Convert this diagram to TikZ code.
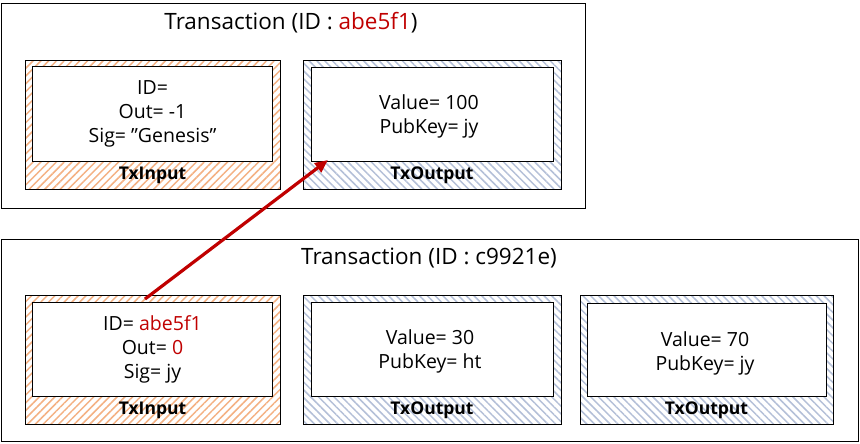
\documentclass[tikz,border=0pt]{standalone}
\usepackage{fontspec}
\setmainfont{Open Sans}
\usetikzlibrary{patterns.meta,arrows.meta}
\definecolor{dred}{HTML}{C00000}
\definecolor{hatchor}{HTML}{F4B183}
\definecolor{hatchbl}{HTML}{B4C0D8}
\tikzset{
  x=1pt,y=-1pt,
  txbox/.style={draw=black,line width=1pt,minimum width=#1,inner sep=0pt},
  inbox/.style={draw=black,line width=1pt,fill=white,inner sep=0pt,minimum width=255pt,minimum height=128pt,
     pattern={Lines[angle=45,distance=5.5pt,line width=1.5pt]},pattern color=hatchor},
  outbox/.style={draw=black,line width=1pt,inner sep=0pt,minimum width=258pt,minimum height=128pt,
     pattern={Lines[angle=-45,distance=5.5pt,line width=1.5pt]},pattern color=hatchbl},
  innerbox/.style={draw=black,line width=1pt,fill=white,inner sep=0pt,minimum width=240pt,minimum height=94pt},
  body/.style={font=\fontsize{19.5}{24}\selectfont,align=center,inner sep=0pt},
  title/.style={font=\fontsize{22.5}{27}\selectfont,inner sep=0pt},
  lbl/.style={font=\fontsize{17.5}{20}\selectfont\bfseries,inner sep=0pt},
  link/.style={draw=dred,line width=3.2pt,-{Triangle[length=13pt,width=11pt]}}
}
\begin{document}
\begin{tikzpicture}
\useasboundingbox[fill=white] (0,0) rectangle (860,444);
% top transaction
\node[txbox=584pt,minimum height=204pt] (T1) at (293,106) {};
\node[title] (T1t) at (291,23) {Transaction (ID : \textcolor{dred}{abe5f1})};
\node[inbox] (A1) at (152.5,125) {};
\node[innerbox] (A1i) at (152.5,114) {};
\node[body] (A1b) at (152.5,114) {ID=\\Out= -1\\Sig= ”Genesis”};
\node[lbl] (A1l) at (152.5,175) {TxInput};
\node[outbox] (B1) at (432,125) {};
\node[innerbox,minimum width=242pt] (B1i) at (432,114.5) {};
\node[body] (B1b) at (429,116) {Value= 100\\PubKey= jy};
\node[lbl] (B1l) at (432,175) {TxOutput};
% bottom transaction
\node[txbox=857pt,minimum height=202pt] (T2) at (429.5,340) {};
\node[title] (T2t) at (429,258) {Transaction (ID : c9921e)};
\node[inbox,minimum height=129pt] (A2) at (152.5,359.5) {};
\node[innerbox] (A2i) at (152.5,349) {};
\node[body] (A2b) at (152.5,349) {ID= \textcolor{dred}{abe5f1}\\Out= \textcolor{dred}{0}\\Sig= jy};
\node[lbl] (A2l) at (152.5,410) {TxInput};
\node[outbox,minimum height=129pt] (B2) at (432,359.5) {};
\node[innerbox,minimum width=242pt] (B2i) at (432,349) {};
\node[body] (B2b) at (430,351) {Value= 30\\PubKey= ht};
\node[lbl] (B2l) at (432,410) {TxOutput};
\node[outbox,minimum width=253pt,minimum height=129pt] (B3) at (706.5,359.5) {};
\node[innerbox,minimum width=239pt,minimum height=93pt] (B3i) at (707,350) {};
\node[body] (B3b) at (705,353) {Value= 70\\PubKey= jy};
\node[lbl] (B3l) at (706.5,410) {TxOutput};
% link
\coordinate (s) at (145,299);
\coordinate (e) at (328,160);
\draw[link] (s) -- (e);
\end{tikzpicture}
\end{document}
